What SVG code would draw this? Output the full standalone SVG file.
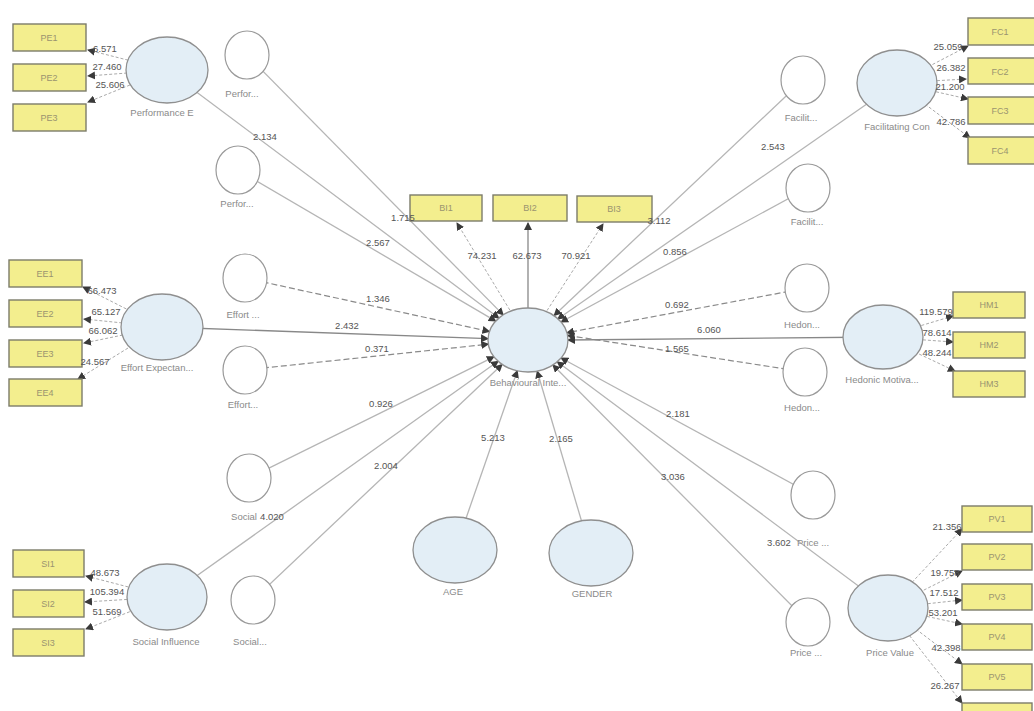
<svg xmlns="http://www.w3.org/2000/svg" width="1034" height="711" viewBox="0 0 1034 711">
<defs>
<marker id="arr" markerUnits="userSpaceOnUse" markerWidth="8" markerHeight="8" refX="7" refY="4" orient="auto"><path d="M0,0 L8,4 L0,8 z" fill="#3a3a3a"/></marker>
<style>
.p{stroke:#b5b5b5;stroke-width:1.3;fill:none}
.pd{stroke:#8a8a8a;stroke-width:1.2;fill:none;stroke-dasharray:6 3}
.ps{stroke:#888;stroke-width:1.3;fill:none}
.ind{stroke:#aaa;stroke-width:1;fill:none;stroke-dasharray:3 2}
.lv{fill:#e3eef6;stroke:#8f8f8f;stroke-width:1.3}
.sm{fill:#fff;stroke:#9a9a9a;stroke-width:1.2}
.box{fill:#f3ee8e;stroke:#7c7c6a;stroke-width:1.4}
.bt{font-family:"Liberation Sans",sans-serif;font-size:9px;fill:#9a9470;text-anchor:middle}
.lb{font-family:"Liberation Sans",sans-serif;font-size:9.5px;fill:#8a8a8a;text-anchor:middle}
.n{font-family:"Liberation Sans",sans-serif;font-size:9.5px;fill:#555;text-anchor:middle}
</style>
</defs>
<rect width="1034" height="711" fill="#fff"/>
<g id="connectors">
<g marker-end="url(#arr)">
<path class="p" d="M167,70 L498.8,318.1"/>
<path class="p" d="M247,55 L503.2,314.9"/>
<path class="p" d="M238,170 L495.7,321.1"/>
<path class="pd" d="M245,278 L489.4,331.5"/>
<path class="ps" d="M162,327 L488,338.6"/>
<path class="pd" d="M245,370 L488.3,344.2"/>
<path class="p" d="M249,478 L493.9,356.8"/>
<path class="p" d="M167,597 L498.1,361.3"/>
<path class="p" d="M253,600 L502.1,364.5"/>
<path class="p" d="M455,550 L517.3,370.8"/>
<path class="p" d="M591,553 L537.2,371.2"/>
<path class="p" d="M897,83 L557.8,319"/>
<path class="p" d="M803,80 L554.1,315.5"/>
<path class="p" d="M808,188 L561.1,322"/>
<path class="pd" d="M807,288 L566.9,332.7"/>
<path class="ps" d="M883,337 L568,340"/>
<path class="pd" d="M805,372 L567.5,335.4"/>
<path class="p" d="M813,495 L561.1,358"/>
<path class="p" d="M888,608 L557.3,361.8"/>
<path class="p" d="M808,622 L552.9,365"/>
<path class="ind" d="M167,70 L88,50"/>
<path class="ind" d="M167,70 L88,76"/>
<path class="ind" d="M167,70 L88,102"/>
<path class="ind" d="M162,327 L83,287"/>
<path class="ind" d="M162,327 L84,319"/>
<path class="ind" d="M162,327 L84,343"/>
<path class="ind" d="M162,327 L78,379"/>
<path class="ind" d="M897,83 L968,46"/>
<path class="ind" d="M897,83 L966,79"/>
<path class="ind" d="M897,83 L968,99"/>
<path class="ind" d="M897,83 L970,138"/>
<path class="ind" d="M883,337 L953,316"/>
<path class="ind" d="M883,337 L953,342"/>
<path class="ind" d="M883,337 L955,371"/>
<path class="ind" d="M167,597 L86,576"/>
<path class="ind" d="M167,597 L85,602"/>
<path class="ind" d="M167,597 L86,629"/>
<path class="ind" d="M888,608 L962,529"/>
<path class="ind" d="M888,608 L962,571"/>
<path class="ind" d="M888,608 L962,600"/>
<path class="ind" d="M888,608 L962,624"/>
<path class="ind" d="M888,608 L962,664"/>
<path class="ind" d="M888,608 L962,703"/>
<path class="ind" d="M528,340 L457,223"/>
<path class="ps" d="M528,340 L528,223"/>
<path class="ind" d="M528,340 L603,224"/>
</g>
</g>
<g id="BI"><ellipse class="lv" cx="528" cy="340" rx="40" ry="32"/><text class="lb" x="528" y="386">Behavioural Inte...</text></g>
<g id="PE"><ellipse class="lv" cx="167" cy="70" rx="41" ry="33"/><text class="lb" x="162" y="116">Performance E</text></g>
<g id="EE"><ellipse class="lv" cx="162" cy="327" rx="41" ry="33"/><text class="lb" x="157" y="371">Effort Expectan...</text></g>
<g id="SI"><ellipse class="lv" cx="167" cy="597" rx="40" ry="33"/><text class="lb" x="166" y="645">Social Influence</text></g>
<g id="FC"><ellipse class="lv" cx="897" cy="83" rx="40" ry="33"/><text class="lb" x="897" y="130">Facilitating Con</text></g>
<g id="HM"><ellipse class="lv" cx="883" cy="337" rx="40" ry="32"/><text class="lb" x="882" y="383">Hedonic Motiva...</text></g>
<g id="PV"><ellipse class="lv" cx="888" cy="608" rx="40" ry="33"/><text class="lb" x="890" y="656">Price Value</text></g>
<g id="AGE"><ellipse class="lv" cx="455" cy="550" rx="42" ry="33"/><text class="lb" x="453" y="595">AGE</text></g>
<g id="GENDER"><ellipse class="lv" cx="591" cy="553" rx="42" ry="33"/><text class="lb" x="592" y="597">GENDER</text></g>
<g id="Perf1"><ellipse class="sm" cx="247" cy="55" rx="22" ry="24"/><text class="lb" x="242" y="97">Perfor...</text></g>
<g id="Perf2"><ellipse class="sm" cx="238" cy="170" rx="22" ry="24"/><text class="lb" x="237" y="207">Perfor...</text></g>
<g id="Eff1"><ellipse class="sm" cx="245" cy="278" rx="22" ry="24"/><text class="lb" x="243" y="318">Effort ...</text></g>
<g id="Eff2"><ellipse class="sm" cx="245" cy="370" rx="22" ry="24"/><text class="lb" x="243" y="408">Effort...</text></g>
<g id="Soc1"><ellipse class="sm" cx="249" cy="478" rx="22" ry="24"/><text class="lb" x="244" y="520">Social</text></g>
<g id="Soc2"><ellipse class="sm" cx="253" cy="600" rx="22" ry="24"/><text class="lb" x="250" y="645">Social...</text></g>
<g id="Fac1"><ellipse class="sm" cx="803" cy="80" rx="22" ry="24"/><text class="lb" x="801" y="121">Facilit...</text></g>
<g id="Fac2"><ellipse class="sm" cx="808" cy="188" rx="22" ry="24"/><text class="lb" x="807" y="225">Facilit...</text></g>
<g id="Hed1"><ellipse class="sm" cx="807" cy="288" rx="22" ry="24"/><text class="lb" x="802" y="328">Hedon...</text></g>
<g id="Hed2"><ellipse class="sm" cx="805" cy="372" rx="22" ry="24"/><text class="lb" x="802" y="411">Hedon...</text></g>
<g id="Pr1"><ellipse class="sm" cx="813" cy="495" rx="22" ry="24"/><text class="lb" x="813" y="546">Price ...</text></g>
<g id="Pr2"><ellipse class="sm" cx="808" cy="622" rx="22" ry="24"/><text class="lb" x="806" y="656">Price ...</text></g>
<g id="PE1"><rect class="box" x="13" y="24" width="73" height="27"/><text class="bt" x="49" y="41">PE1</text></g>
<g id="PE2"><rect class="box" x="13" y="64" width="73" height="27"/><text class="bt" x="49" y="81">PE2</text></g>
<g id="PE3"><rect class="box" x="13" y="104" width="73" height="27"/><text class="bt" x="49" y="121">PE3</text></g>
<g id="EE1"><rect class="box" x="9" y="260" width="73" height="27"/><text class="bt" x="45" y="277">EE1</text></g>
<g id="EE2"><rect class="box" x="9" y="300" width="73" height="27"/><text class="bt" x="45" y="317">EE2</text></g>
<g id="EE3"><rect class="box" x="9" y="340" width="73" height="27"/><text class="bt" x="45" y="357">EE3</text></g>
<g id="EE4"><rect class="box" x="9" y="379" width="73" height="27"/><text class="bt" x="45" y="396">EE4</text></g>
<g id="SI1"><rect class="box" x="13" y="550" width="71" height="27"/><text class="bt" x="48" y="567">SI1</text></g>
<g id="SI2"><rect class="box" x="13" y="590" width="71" height="27"/><text class="bt" x="48" y="607">SI2</text></g>
<g id="SI3"><rect class="box" x="13" y="629" width="71" height="27"/><text class="bt" x="48" y="646">SI3</text></g>
<g id="BI1"><rect class="box" x="410" y="195" width="72" height="26"/><text class="bt" x="446" y="211">BI1</text></g>
<g id="BI2"><rect class="box" x="493" y="195" width="74" height="26"/><text class="bt" x="530" y="211">BI2</text></g>
<g id="BI3"><rect class="box" x="577" y="196" width="75" height="26"/><text class="bt" x="614" y="212">BI3</text></g>
<g id="FC1"><rect class="box" x="968" y="18" width="70" height="27"/><text class="bt" x="1000" y="35">FC1</text></g>
<g id="FC2"><rect class="box" x="968" y="58" width="70" height="26"/><text class="bt" x="1000" y="75">FC2</text></g>
<g id="FC3"><rect class="box" x="968" y="97" width="70" height="27"/><text class="bt" x="1000" y="114">FC3</text></g>
<g id="FC4"><rect class="box" x="968" y="137" width="70" height="27"/><text class="bt" x="1000" y="154">FC4</text></g>
<g id="HM1"><rect class="box" x="953" y="292" width="72" height="26"/><text class="bt" x="989" y="308">HM1</text></g>
<g id="HM2"><rect class="box" x="953" y="332" width="72" height="26"/><text class="bt" x="989" y="348">HM2</text></g>
<g id="HM3"><rect class="box" x="953" y="371" width="72" height="26"/><text class="bt" x="989" y="387">HM3</text></g>
<g id="PV1"><rect class="box" x="962" y="506" width="70" height="26"/><text class="bt" x="997" y="522">PV1</text></g>
<g id="PV2"><rect class="box" x="962" y="544" width="70" height="26"/><text class="bt" x="997" y="560">PV2</text></g>
<g id="PV3"><rect class="box" x="962" y="584" width="70" height="26"/><text class="bt" x="997" y="600">PV3</text></g>
<g id="PV4"><rect class="box" x="962" y="624" width="70" height="26"/><text class="bt" x="997" y="640">PV4</text></g>
<g id="PV5"><rect class="box" x="962" y="664" width="70" height="26"/><text class="bt" x="997" y="680">PV5</text></g>
<g id="PV6"><rect class="box" x="962" y="703" width="70" height="26"/></g>
<g id="connector-labels">
<text class="n" x="265" y="140">2.134</text>
<text class="n" x="403" y="221">1.715</text>
<text class="n" x="378" y="246">2.567</text>
<text class="n" x="378" y="302">1.346</text>
<text class="n" x="347" y="329">2.432</text>
<text class="n" x="377" y="352">0.371</text>
<text class="n" x="381" y="407">0.926</text>
<text class="n" x="386" y="469">2.004</text>
<text class="n" x="272" y="520">4.020</text>
<text class="n" x="493" y="441">5.213</text>
<text class="n" x="561" y="442">2.165</text>
<text class="n" x="773" y="150">2.543</text>
<text class="n" x="659" y="224">3.112</text>
<text class="n" x="675" y="255">0.856</text>
<text class="n" x="677" y="308">0.692</text>
<text class="n" x="709" y="333">6.060</text>
<text class="n" x="677" y="352">1.565</text>
<text class="n" x="678" y="417">2.181</text>
<text class="n" x="673" y="480">3.036</text>
<text class="n" x="779" y="546">3.602</text>
<text class="n" x="482" y="259">74.231</text>
<text class="n" x="527" y="259">62.673</text>
<text class="n" x="576" y="259">70.921</text>
<text class="n" x="105" y="52">6.571</text>
<text class="n" x="107" y="70">27.460</text>
<text class="n" x="110" y="88">25.606</text>
<text class="n" x="102" y="294">66.473</text>
<text class="n" x="106" y="315">65.127</text>
<text class="n" x="103" y="334">66.062</text>
<text class="n" x="95" y="365">24.567</text>
<text class="n" x="948" y="50">25.059</text>
<text class="n" x="951" y="71">26.382</text>
<text class="n" x="950" y="90">21.200</text>
<text class="n" x="951" y="125">42.786</text>
<text class="n" x="936" y="315">119.579</text>
<text class="n" x="937" y="336">78.614</text>
<text class="n" x="937" y="356">48.244</text>
<text class="n" x="105" y="576">48.673</text>
<text class="n" x="107" y="595">105.394</text>
<text class="n" x="107" y="615">51.569</text>
<text class="n" x="947" y="530">21.356</text>
<text class="n" x="945" y="576">19.758</text>
<text class="n" x="944" y="596">17.512</text>
<text class="n" x="943" y="616">53.201</text>
<text class="n" x="946" y="651">42.398</text>
<text class="n" x="945" y="689">26.267</text>
</g>
</svg>
